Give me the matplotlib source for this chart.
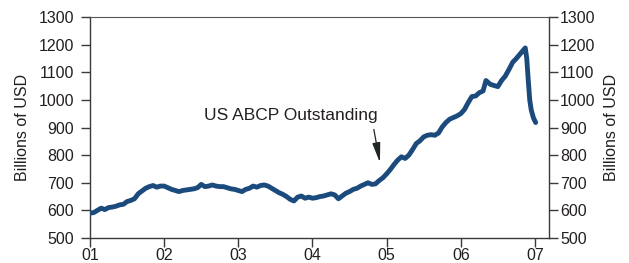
import matplotlib
matplotlib.use("Agg")
import matplotlib.pyplot as plt

plt.rcParams['font.family'] = ['Liberation Sans', 'DejaVu Sans']

years = [2001.00, 2001.05, 2001.10, 2001.15, 2001.20, 2001.25, 2001.30, 2001.35, 2001.40, 2001.45,
         2001.50, 2001.55, 2001.60, 2001.65, 2001.70, 2001.75, 2001.80, 2001.85, 2001.90, 2001.95,
         2002.00, 2002.05, 2002.10, 2002.15, 2002.20, 2002.25, 2002.30, 2002.35, 2002.40, 2002.45,
         2002.50, 2002.55, 2002.60, 2002.65, 2002.70, 2002.75, 2002.80, 2002.85, 2002.90, 2002.95,
         2003.00, 2003.05, 2003.10, 2003.15, 2003.20, 2003.25, 2003.30, 2003.35, 2003.40, 2003.45,
         2003.50, 2003.55, 2003.60, 2003.65, 2003.70, 2003.75, 2003.80, 2003.85, 2003.90, 2003.95,
         2004.00, 2004.05, 2004.10, 2004.15, 2004.20, 2004.25, 2004.30, 2004.35, 2004.40, 2004.45,
         2004.50, 2004.55, 2004.60, 2004.65, 2004.70, 2004.75, 2004.80, 2004.85, 2004.90, 2004.95,
         2005.00, 2005.05, 2005.10, 2005.15, 2005.20, 2005.25, 2005.30, 2005.35, 2005.40, 2005.45,
         2005.50, 2005.55, 2005.60, 2005.65, 2005.70, 2005.75, 2005.80, 2005.85, 2005.90, 2005.95,
         2006.00, 2006.05, 2006.10, 2006.15, 2006.20, 2006.25, 2006.30, 2006.34, 2006.40, 2006.45,
         2006.50, 2006.55, 2006.60, 2006.65, 2006.70, 2006.75, 2006.80, 2006.85, 2006.87, 2006.89,
         2006.91, 2006.93, 2006.95, 2006.98, 2007.01]

abcp = [590, 592, 600, 608, 603, 610, 612, 615, 620, 622,
        632, 636, 642, 660, 670, 680, 686, 690, 684, 688,
        688, 682, 676, 672, 668, 672, 674, 676, 678, 682,
        694, 686, 688, 692, 688, 686, 686, 682, 678, 676,
        672, 668, 676, 680, 688, 684, 690, 692, 688, 680,
        672, 664, 658, 650, 640, 634, 648, 652, 644, 648,
        644, 646, 650, 652, 656, 660, 656, 642, 652, 662,
        668, 676, 680, 688, 694, 700, 694, 696, 708, 718,
        732, 748, 766, 782, 794, 788, 800, 820, 842, 852,
        866, 872, 874, 872, 880, 902, 918, 930, 936, 942,
        950, 965, 990, 1012, 1014, 1026, 1032, 1070, 1056, 1052,
        1048, 1070, 1086, 1110, 1136, 1150, 1166, 1182, 1188, 1150,
        1072, 1000, 964, 935, 918]

xtick_pos = [2001, 2002, 2003, 2004, 2005, 2006, 2007]
xtick_labels = ['01', '02', '03', '04', '05', '06', '07']
yticks = [500, 600, 700, 800, 900, 1000, 1100, 1200, 1300]

line_color = '#1b4b7d'
text_color = '#231f20'
spine_color = '#3a3a3a'

fig = plt.figure(figsize=(6.29, 2.63), dpi=100)
ax = fig.add_axes([90/629, 1-238/263, (549-90)/629, (238-17)/263])

ax.plot(years, abcp, color=line_color, lw=3.5, solid_joinstyle='round', solid_capstyle='round', zorder=3)

ax.set_xlim(2001.0, 2007.19)
ax.set_ylim(500, 1300)
ax.set_xticks(xtick_pos)
ax.set_xticklabels(xtick_labels)
ax.set_yticks(yticks)

for s in ax.spines.values():
    s.set_color(spine_color)
    s.set_linewidth(1.0)
ax.spines['top'].set_color('#555555')
ax.spines['top'].set_linewidth(0.8)

ax.tick_params(axis='x', direction='out', length=6.5, width=1.0, color=spine_color,
               labelsize=11.5, labelcolor=text_color, pad=0.5)
ax.tick_params(axis='y', direction='out', length=6.5, width=1.0, color=spine_color,
               labelsize=11.5, labelcolor=text_color, pad=5)
ax.set_ylabel('Billions of USD', fontsize=11.5, color=text_color, labelpad=6)

ax2 = ax.twinx()
ax2.set_ylim(500, 1300)
ax2.set_yticks(yticks)
for s in ax2.spines.values():
    s.set_visible(False)
ax2.tick_params(axis='y', direction='out', length=6.5, width=1.0, color=spine_color,
                labelsize=11.5, labelcolor=text_color, pad=1.5)
ax2.set_ylabel('Billions of USD', fontsize=11.5, color=text_color, rotation=90, labelpad=6)

ax.annotate('US ABCP Outstanding', xy=(2004.91, 773), xytext=(2003.71, 945),
            ha='center', va='center', fontsize=12.5, color=text_color,
            arrowprops=dict(arrowstyle='-|>,head_length=1.0,head_width=0.2',
                            color='#1f2626', lw=0.9, shrinkA=3, shrinkB=0,
                            mutation_scale=12,
                            relpos=(0.97, 0.0)))

fig.savefig('out.png', dpi=100)
